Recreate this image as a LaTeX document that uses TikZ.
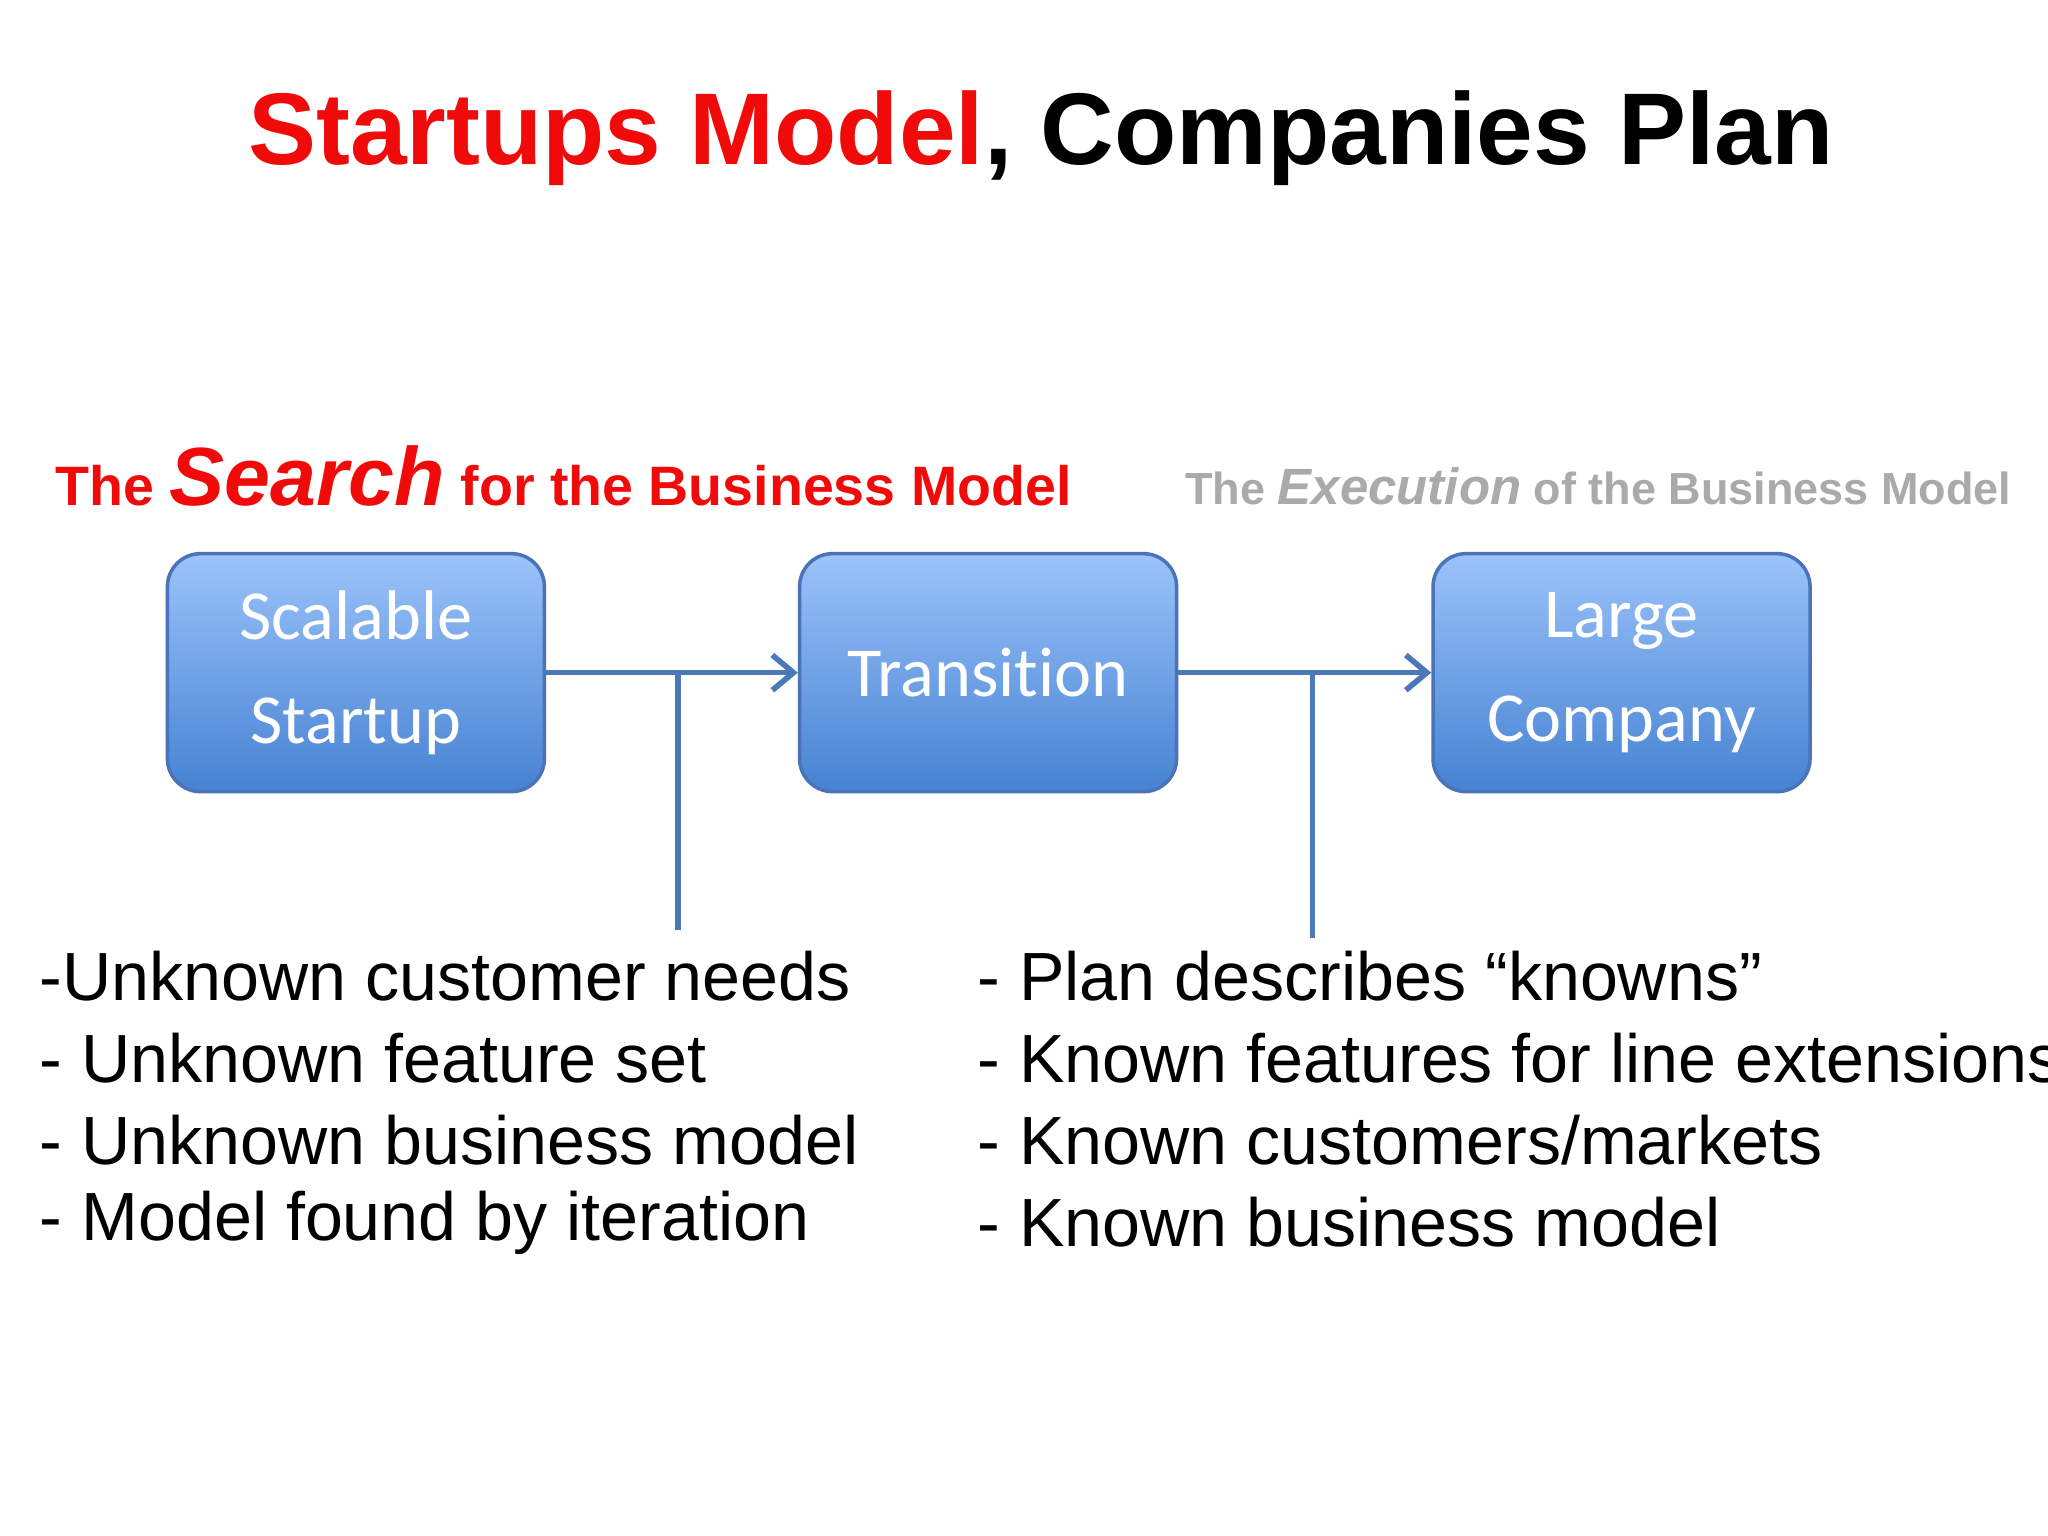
\documentclass[tikz,border=0pt]{standalone}
\usepackage{fontspec}
\setmainfont{Liberation Sans}
\newfontfamily\carlitofam[Ligatures=NoCommon]{Carlito}
\usetikzlibrary{arrows.meta}
\definecolor{tred}{RGB}{240,10,10}
\definecolor{tgray}{RGB}{170,170,170}
\definecolor{boxtop}{RGB}{155,195,250}
\definecolor{boxbot}{RGB}{70,130,210}
\definecolor{boxline}{RGB}{75,115,185}
\definecolor{conn}{RGB}{75,120,185}
\tikzset{
  procbox/.style={draw=boxline,line width=1pt,rounded corners=0.33cm,top color=boxtop,bottom color=boxbot,
    minimum width=3.77cm,minimum height=2.38cm,text=white,font=\carlitofam\fontsize{20}{29.5}\selectfont,align=center,inner sep=0pt},
  conline/.style={draw=conn,line width=1.6pt},
  listtext/.style={anchor=west,font=\fontsize{19.4}{24}\selectfont,inner sep=0pt},
}
\begin{document}
\begin{tikzpicture}[x=0.01306cm,y=-0.01306cm]
\useasboundingbox (0,0) rectangle (1568,1176);
\fill[white] (0,0) rectangle (1568,1176);
\node[font=\bfseries\fontsize{29}{34}\selectfont] (title) at (797,106) {\textcolor{tred}{Startups Model}, Companies Plan};
\node[anchor=base west,inner sep=0pt,text=tred,font=\bfseries\fontsize{15.8}{19}\selectfont] (search) at (42,387)
  {The {\fontsize{23.5}{27}\selectfont\itshape Search} for the Business Model};
\node[anchor=base west,inner sep=0pt,text=tgray,font=\bfseries\fontsize{12.8}{16}\selectfont] (exec) at (907,386)
  {The {\fontsize{14.5}{18}\selectfont\itshape Execution} of the Business Model};
\node[procbox] (s) at (272.5,515) {Scalable\\Startup};
\node[procbox] (t) at (756.5,515) {Transition};
\node[procbox] (l) at (1241.5,515) {Large\\Company};
\draw[conline,-{Straight Barb[length=6pt,width=10pt]}] (s.east) -- (t.west);
\draw[conline,-{Straight Barb[length=6pt,width=10pt]}] (t.east) -- (l.west);
\coordinate (j1) at (519,516); \coordinate (e1) at (519,712);
\coordinate (j2) at (1005,516); \coordinate (e2) at (1005,718);
\draw[conline] (j1) -- (e1);
\draw[conline] (j2) -- (e2);
\node[listtext] (a1) at (30,747) {-Unknown customer needs};
\node[listtext] (a2) at (30,810) {- Unknown feature set};
\node[listtext] (a3) at (30,873) {- Unknown business model};
\node[listtext] (a4) at (30,936) {- Model found by iteration};
\node[listtext] (b1) at (748,747) {- Plan describes “knowns”};
\node[listtext] (b2) at (748,810) {- Known features for line extensions};
\node[listtext] (b3) at (748,873) {- Known customers/markets};
\node[listtext] (b4) at (748,936) {- Known business model};
\end{tikzpicture}
\end{document}
